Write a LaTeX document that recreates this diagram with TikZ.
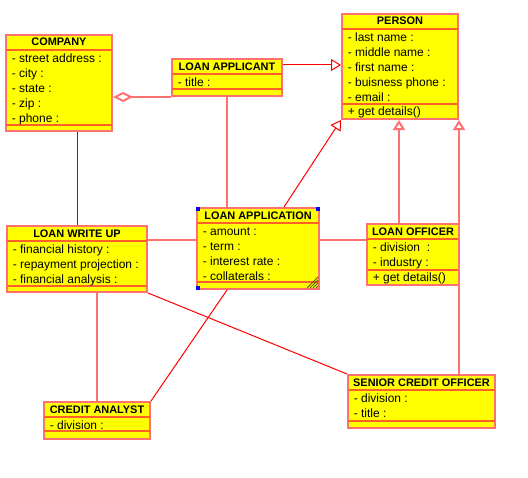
\documentclass[tikz,border=0pt]{standalone}
\usepackage{fontspec}
\setmainfont{Liberation Sans}
\usetikzlibrary{arrows.meta,calc,fit,positioning}
\definecolor{boxFill}{RGB}{255,255,0}
\definecolor{boxEdge}{RGB}{255,112,112}
\definecolor{sepEdge}{RGB}{255,96,40}
\definecolor{darkRed}{RGB}{205,0,0}
\definecolor{hatchCol}{RGB}{90,90,0}
\tikzstyle{classBox}=[draw = boxEdge, fill = boxFill, line width = 1.5pt, inner sep = 0pt]
\tikzstyle{sepLine}=[draw = sepEdge, line width = 1.5pt]
\tikzstyle{titleText}=[font = \fontsize{8.2}{10}\selectfont\bfseries, inner sep = 0pt, text height = 6.5pt, text depth = 2pt]
\tikzstyle{attrText}=[font = \fontsize{9}{11}\selectfont, anchor = west, inner sep = 0pt, text height = 7pt, text depth = 2pt]
\tikzstyle{thickLine}=[draw = boxEdge, line width = 1.5pt]
\tikzstyle{thinLine}=[draw = red, line width = 0.75pt]
\tikzstyle{darkLine}=[draw = darkRed, line width = 0.75pt]
\tikzstyle{genTip}=[-{Triangle[open, fill = white, length = 7.5pt, width = 9pt]}]
\tikzstyle{aggTip}=[{Diamond[open, fill = white, length = 15pt, width = 7.5pt]}-]
% #1 name, #2-#5 box corners, #6 second separator, #7 title, #8 attributes, #9 operations
\newcommand{\umlclass}[9]{%
  \node[classBox, fit = {(#2,#3) (#4,#5)}] (#1) {};
  \draw[sepLine] (#2,#3+15) -- (#4,#3+15);
  \draw[sepLine] (#2,#6) -- (#4,#6);
  \node[titleText] (#1t) at ({(#2+#4)/2},#3+8) {#7};
  \foreach \t [count=\i] in {#8} \node[attrText] (#1a\i) at (#2+5.5,#3+15+15*\i-6) {\t};
  \foreach \t [count=\i] in {#9} \node[attrText] (#1o\i) at (#2+5.5,#6+15*\i-6.5) {\t};
}

\begin{document}
\begin{tikzpicture}[x = 0.75pt, y = -0.75pt]
\useasboundingbox (0,0) rectangle (528,478);
\umlclass{company}{6}{35}{112}{131}{125}{COMPANY}{- street address :, - city :, - state :, - zip :, - phone :}{}
\umlclass{applicant}{172}{59}{282}{96}{89}{LOAN APPLICANT}{- title :}{}
\umlclass{person}{342}{14}{458}{119}{104}{PERSON}{- last name :, - middle name :, - first name :, - buisness phone :, - email :}{+ get details()}
\umlclass{application}{197}{208}{319}{289}{282}{LOAN APPLICATION}{- amount :, - term :, - interest rate :, - collaterals :}{}
\umlclass{officer}{367}{224}{459}{285}{270}{LOAN OFFICER}{- division~ :, - industry :}{+ get details()}
\umlclass{writeup}{7}{226}{147}{292}{286}{LOAN WRITE UP}{- financial history :, - repayment projection :, - financial analysis :}{}
\umlclass{analyst}{44}{402}{150}{439}{431}{CREDIT ANALYST}{- division :}{}
\umlclass{sco}{348}{375}{495}{428}{421}{SENIOR CREDIT OFFICER}{- division :, - title :}{}
% selection marks on loan application
\fill[blue] (application.north west) rectangle ++(4,4);
\fill[blue] ($(application.north east)+(-4,0)$) rectangle ++(4,4);
\fill[blue] ($(application.south west)+(0,-4)$) rectangle ++(4,4);
\foreach \k in {4,7,10,13}
  \draw[hatchCol, line width = 0.6pt] ($(application.south east)+(-\k,-2)$) -- ($(application.south east)+(-2,-\k)$);
% connectors
\coordinate (appLink) at ($(applicant.north east)+(0,7)$);
\coordinate (appTop) at ($(application.north east)+(-36,0)$);
\coordinate (offTop) at ($(officer.north west)+(33,0)$);
\coordinate (midRow) at ($(application.north west)+(0,33)$);
\draw[thickLine, aggTip] (company.east |- applicant.south) -- (applicant.south west);
\draw[thinLine, genTip] (appLink) -- (appLink -| person.west);
\draw[thickLine] (applicant.south) -- (applicant.south |- application.north);
\draw[thinLine, genTip] (appTop) -- (person.south west);
\draw[thickLine, genTip] (offTop) -- (offTop |- person.south);
\draw[thickLine, genTip] (person.south east |- sco.north) -- (person.south east);
\draw[thickLine] (midRow) -- (midRow -| writeup.east);
\draw[thickLine] (midRow -| application.east) -- (midRow -| officer.west);
\draw[darkLine] (writeup.north) -- (writeup.north |- company.south);
\draw[thickLine] (analyst.north) -- (analyst.north |- writeup.south);
\draw[thinLine] (writeup.south east) -- (sco.north west);
\draw[thinLine] (analyst.north east) -- (applicant.south |- application.south);
\end{tikzpicture}
\end{document}
